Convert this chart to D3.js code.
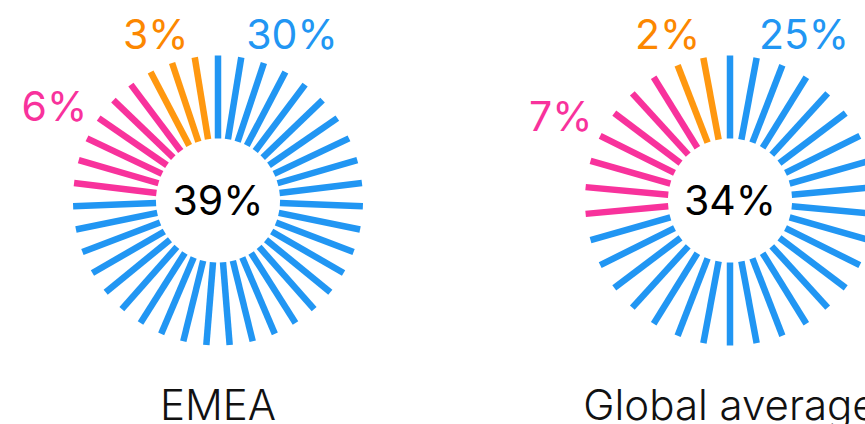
<!DOCTYPE html>
<html>
<head>
<meta charset="utf-8">
<script src="https://cdn.jsdelivr.net/npm/d3@7"></script>
<title>Share spokes</title>
<style>
    body {
        margin: 0;
        background: #fff;
    }
    svg text {
        font-family: Inter, "Noto Sans", sans-serif;
    }
</style>
</head>
<body>
<svg id="chart"></svg>
<script>
    // data
    const regions = ["EMEA", "Global average"]
    const totals = [39, 34]
    const mainShare = [30, 25]
    const secondShare = [6, 7]
    const thirdShare = [3, 2]

    const spokeColors = ["#2196f3", "#f8329c", "#ff9810"]
    const labelColors = ["#2196f3", "#f8329c", "#fc8700"]

    const width = 865, height = 424
    const cy = 200.5
    const innerR = 62, outerR = 145
    const deg = Math.PI / 180

    const svg = d3.select("#chart").attr("width", width).attr("height", height)

    const x = d3.scalePoint().domain(regions).range([218, 730])

    regions.forEach((name, r) => {
        const vals = [mainShare[r], secondShare[r], thirdShare[r]]
        const n = d3.sum(vals)
        const cum = Array.from(d3.cumsum(vals))
        const starts = [0].concat(cum.slice(0, -1))
        const angle = d3.scaleLinear().domain([0, n]).range([0, 2 * Math.PI])

        const spokes = d3.range(n).map(i => ({ i: i, s: d3.bisectRight(cum, i) }))

        const g = svg.append("g").attr("transform", `translate(${x(name)},${cy})`)

        g.selectAll("line").data(spokes).join("line")
            .attr("x1", d => innerR * Math.sin(angle(d.i)))
            .attr("y1", d => -innerR * Math.cos(angle(d.i)))
            .attr("x2", d => outerR * Math.sin(angle(d.i)))
            .attr("y2", d => -outerR * Math.cos(angle(d.i)))
            .attr("stroke", d => spokeColors[d.s])
            .attr("stroke-width", 6.5)

        // segment labels: first one sits just right of the top,
        // the others at the middle of their run, kept clear of the top
        const labels = vals.map((v, s) => {
            let a, rr
            if (s === 0) {
                a = 24 * deg
                rr = 182
            } else {
                a = angle(starts[s] + (v - 1) / 2) - 2 * Math.PI
                a = Math.min(a, -20.5 * deg)
                rr = s === 1 ? 189 : 178
            }
            return { v: v, s: s, a: a, rr: rr }
        })

        g.selectAll("text.seg").data(labels).join("text")
            .attr("class", "seg")
            .attr("x", d => d.rr * Math.sin(d.a))
            .attr("y", d => -d.rr * Math.cos(d.a))
            .attr("dy", "0.36em")
            .attr("text-anchor", "middle")
            .attr("font-size", 41)
            .attr("fill", d => labelColors[d.s])
            .text(d => d.v + "%")

        g.append("text")
            .attr("text-anchor", "middle")
            .attr("dy", "0.36em")
            .attr("font-size", 41)
            .attr("fill", "#000")
            .text(totals[r] + "%")

        g.append("text")
            .attr("text-anchor", "middle")
            .attr("y", 420 - cy)
            .attr("font-size", 42)
            .attr("font-weight", 300)
            .attr("fill", "#111")
            .text(name)
    })
</script>
</body>
</html>
